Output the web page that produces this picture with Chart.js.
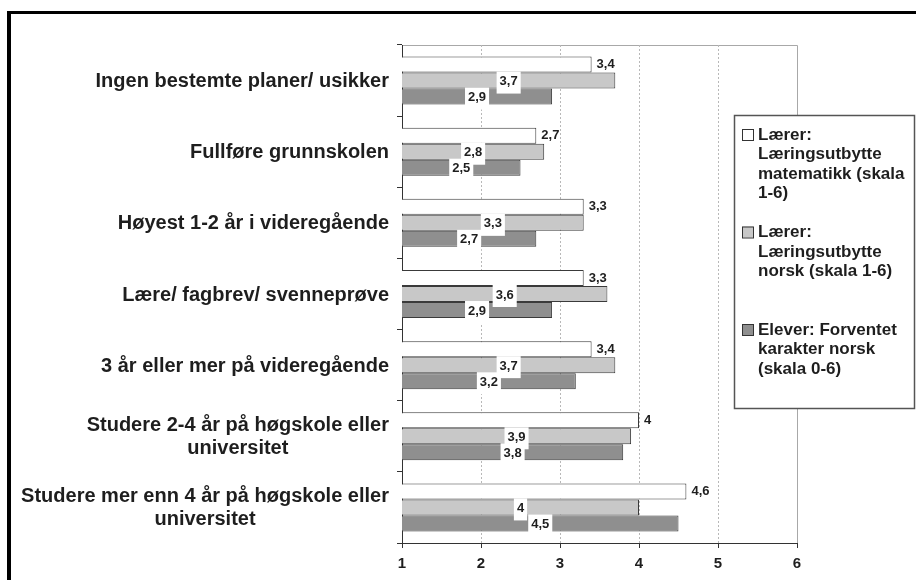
<!DOCTYPE html>
<html>
<head>
<meta charset="utf-8">
<script src="https://cdn.jsdelivr.net/npm/chart.js@4.4.1/dist/chart.umd.min.js"></script>
<style>
html,body{margin:0;padding:0;background:#fff;overflow:hidden;}
canvas{display:block;}
</style>
</head>
<body>
<canvas id="c" width="916" height="580"></canvas>
<script>
const categories = [
  "Ingen bestemte planer/ usikker",
  "Fullføre grunnskolen",
  "Høyest 1-2 år i videregående",
  "Lære/ fagbrev/ svenneprøve",
  "3 år eller mer på videregående",
  ["Studere 2-4 år på høgskole eller", "universitet"],
  ["Studere mer enn 4 år på høgskole eller", "universitet"]
];
const laererMatematikk = [3.4, 2.7, 3.3, 3.3, 3.4, 4, 4.6];
const laererNorsk = [3.7, 2.8, 3.3, 3.6, 3.7, 3.9, 4];
const eleverNorsk = [2.9, 2.5, 2.7, 2.9, 3.2, 3.8, 4.5];
const seriesNames = [
  ["Lærer:", "Læringsutbytte", "matematikk (skala", "1-6)"],
  ["Lærer:", "Læringsutbytte", "norsk (skala 1-6)"],
  ["Elever: Forventet", "karakter norsk", "(skala 0-6)"]
];
const xTicks = [1, 2, 3, 4, 5, 6];

const FONT = "'Liberation Sans', Arial, Helvetica, sans-serif";
const TEXT = "#1e1e1e";
const fmt = v => String(v).replace('.', ',');

const framePlugin = {
  id: 'frame',
  beforeDraw(chart) {
    const ctx = chart.ctx;
    ctx.save();
    ctx.fillStyle = '#fff';
    ctx.fillRect(0, 0, chart.width, chart.height);
    ctx.fillStyle = '#000';
    ctx.fillRect(7, 11, chart.width, 3);
    ctx.fillRect(7, 11, 4, chart.height);
    const a = chart.chartArea;
    ctx.strokeStyle = '#a8a8a8';
    ctx.lineWidth = 1;
    ctx.beginPath();
    ctx.moveTo(a.left, a.top + 0.5);
    ctx.lineTo(a.right + 0.5, a.top + 0.5);
    ctx.lineTo(a.right + 0.5, a.bottom);
    ctx.stroke();
    ctx.restore();
  }
};

const catLabelPlugin = {
  id: 'catLabels',
  afterDraw(chart) {
    const ctx = chart.ctx;
    const ys = chart.scales.y;
    ctx.save();
    ctx.font = "bold 20px " + FONT;
    ctx.fillStyle = TEXT;
    ctx.textBaseline = 'middle';
    ctx.textAlign = 'center';
    const right = 389;
    const lh = 23;
    chart.data.labels.forEach((lab, i) => {
      const lines = Array.isArray(lab) ? lab : [lab];
      const w = Math.max(...lines.map(l => ctx.measureText(l).width));
      const cx = right - w / 2;
      const cy = ys.getPixelForValue(i) + 1;
      const y0 = cy - (lines.length - 1) * lh / 2;
      lines.forEach((l, k) => ctx.fillText(l, cx, y0 + k * lh));
    });
    ctx.restore();
  }
};

const valueLabelPlugin = {
  id: 'valueLabels',
  afterDatasetsDraw(chart) {
    const ctx = chart.ctx;
    const xs = chart.scales.x;
    const basePx = xs.getPixelForValue(xs.min);
    ctx.save();
    ctx.font = "bold 13px " + FONT;
    ctx.textBaseline = 'middle';
    chart.data.datasets.forEach((ds, di) => {
      const meta = chart.getDatasetMeta(di);
      meta.data.forEach((bar, i) => {
        const p = bar.getProps(['x', 'y'], true);
        const txt = fmt(ds.data[i]);
        if (di === 0) {
          ctx.textAlign = 'left';
          ctx.fillStyle = TEXT;
          ctx.fillText(txt, p.x + 5, p.y);
        } else {
          const cx = (basePx + p.x) / 2;
          const w = ctx.measureText(txt).width + 6;
          const h = 22;
          const cy = p.y + 2;
          ctx.fillStyle = '#fff';
          ctx.fillRect(cx - w / 2, cy - h / 2, w, h);
          ctx.textAlign = 'center';
          ctx.fillStyle = TEXT;
          ctx.fillText(txt, cx, cy - 1);
        }
      });
    });
    ctx.restore();
  }
};

const legendPlugin = {
  id: 'customLegend',
  afterDraw(chart) {
    const ctx = chart.ctx;
    ctx.save();
    const bx = 734, by = 115, bw = 180, bh = 293;
    ctx.fillStyle = '#fff';
    ctx.fillRect(bx, by, bw, bh);
    ctx.strokeStyle = '#555';
    ctx.lineWidth = 1.5;
    ctx.strokeRect(bx + 0.5, by + 0.5, bw, bh);
    ctx.font = "bold 17px " + FONT;
    ctx.textBaseline = 'middle';
    ctx.textAlign = 'left';
    const pitch = 97.5, lh = 19.5;
    chart.data.datasets.forEach((ds, i) => {
      const y = 135 + i * pitch;
      ctx.fillStyle = ds.backgroundColor;
      ctx.fillRect(742, y - 6, 11, 11);
      ctx.strokeStyle = '#333';
      ctx.lineWidth = 1;
      ctx.strokeRect(742.5, y - 5.5, 11, 11);
      ctx.fillStyle = TEXT;
      seriesNames[i].forEach((l, k) => ctx.fillText(l, 758, y + k * lh));
    });
    ctx.restore();
  }
};

const barStyle = {
  borderColor: '#3a3a3a',
  borderWidth: 1,
  borderSkipped: false,
  barPercentage: 1,
  categoryPercentage: 0.675
};

new Chart(document.getElementById('c'), {
  type: 'bar',
  data: {
    labels: categories,
    datasets: [
      Object.assign({ label: seriesNames[0].join(' '), data: laererMatematikk, backgroundColor: '#ffffff' }, barStyle),
      Object.assign({ label: seriesNames[1].join(' '), data: laererNorsk, backgroundColor: '#c8c8c8' }, barStyle),
      Object.assign({ label: seriesNames[2].join(' '), data: eleverNorsk, backgroundColor: '#8f8f8f' }, barStyle)
    ]
  },
  options: {
    indexAxis: 'y',
    responsive: false,
    animation: false,
    layout: { padding: { left: 0, right: 119, top: 45, bottom: 0 } },
    plugins: { legend: { display: false }, tooltip: { enabled: false } },
    scales: {
      x: {
        type: 'linear',
        min: 1, max: 6,
        afterBuildTicks(s) { s.ticks = xTicks.map(v => ({ value: v })); },
        afterFit(s) { s.height = 37; },
        grid: {
          color: (c) => (c.tick && (c.tick.value === 1 || c.tick.value === 6)) ? 'rgba(0,0,0,0)' : '#b8b8b8',
          tickColor: '#333',
          tickLength: 5,
          drawOnChartArea: true
        },
        border: { display: true, color: '#333', width: 1, dash: [2, 2] },
        ticks: {
          color: TEXT,
          padding: 7,
          font: { family: FONT, size: 15, weight: 'bold' },
          maxRotation: 0
        }
      },
      y: {
        type: 'category',
        offset: true,
        afterFit(s) { s.width = 402; },
        border: { display: true, color: '#333', width: 1 },
        grid: {
          offset: true,
          drawOnChartArea: false,
          tickColor: '#333',
          tickLength: 5
        },
        ticks: { display: false }
      }
    }
  },
  plugins: [framePlugin, valueLabelPlugin, catLabelPlugin, legendPlugin]
});
</script>
</body>
</html>
